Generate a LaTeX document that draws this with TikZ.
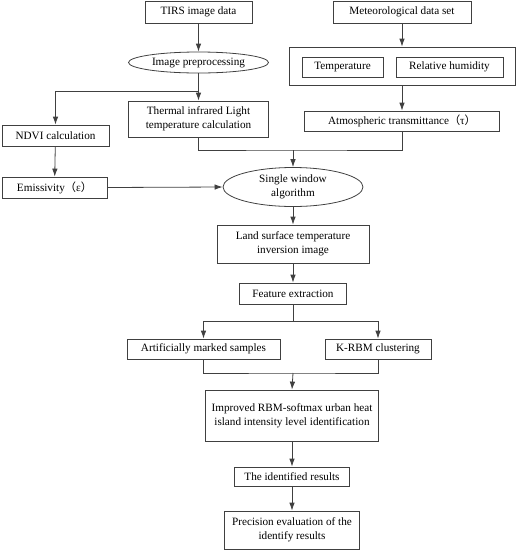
\documentclass[tikz,border=0pt]{standalone}
\usepackage{fontspec}
\setmainfont{Liberation Serif}
\newfontfamily\cjk{Noto Sans CJK SC}
\newcommand{\lpar}{{\cjk （}}
\newcommand{\rpar}{{\cjk ）}}
\usetikzlibrary{arrows.meta,shapes.geometric}
\begin{document}
\begin{tikzpicture}[x=1pt,y=-1pt,
  every node/.style={font=\fontsize{11.2}{14}\selectfont, text=black, inner sep=0pt, align=center},
  box/.style={draw=black!75, line width=0.8pt, rectangle},
  oval/.style={draw=black!75, line width=0.8pt, ellipse},
  ln/.style={draw=black!75, line width=0.8pt},
  arr/.style={ln, -{Latex[length=8pt,width=5.5pt]}}
]
\useasboundingbox (0,0) rectangle (517,550);
\node[box, minimum width=107pt, minimum height=22pt] (tirs) at (198.5,12) {TIRS image data};
\node[box, minimum width=138pt, minimum height=22pt] (met) at (402,12) {Meteorological data set};
\node[oval, minimum width=140pt, minimum height=21pt] (prep) at (198.5,62.5) {Image preprocessing};
\node[box, minimum width=226pt, minimum height=38pt] (outer) at (402,66) {};
\node[box, minimum width=81pt, minimum height=20pt] (temp) at (342.5,67) {Temperature};
\node[box, minimum width=107pt, minimum height=20pt] (hum) at (449.5,67) {Relative humidity};
\node[box, minimum width=195pt, minimum height=20pt] (atm) at (402,121) {Atmospheric transmittance\lpar τ\rpar};
\node[box, minimum width=140pt, minimum height=36pt] (therm) at (198.5,119) {Thermal infrared Light\\temperature calculation};
\node[box, minimum width=107pt, minimum height=21pt] (ndvi) at (55.5,135.5) {NDVI calculation};
\node[box, minimum width=105pt, minimum height=21pt] (emis) at (54.5,187.5) {Emissivity\lpar ε\rpar};
\node[oval, minimum width=140pt, minimum height=39pt] (single) at (293,187) {Single window\\algorithm};
\node[box, minimum width=152pt, minimum height=38pt] (lst) at (293,244) {Land surface temperature\\inversion image};
\node[box, minimum width=107pt, minimum height=21pt] (feat) at (293,293.5) {Feature extraction};
\node[box, minimum width=153pt, minimum height=20pt] (art) at (203.5,349) {Artificially marked samples};
\node[box, minimum width=106pt, minimum height=20pt] (krbm) at (378,349) {K-RBM clustering};
\node[box, minimum width=173pt, minimum height=51pt] (impr) at (292,415.5) {Improved RBM-softmax urban heat\\island intensity level identification};
\node[box, minimum width=115pt, minimum height=19pt] (ident) at (292,476.5) {The identified results};
\node[box, minimum width=135pt, minimum height=38pt] (prec) at (292,530) {Precision evaluation of the\\identify results};

\coordinate (br) at (198.5,91);
\coordinate (j) at (293,150);
\coordinate (s) at (293,321);
\coordinate (m) at (293,373);

\draw[arr] (tirs) -- (prep);
\draw[arr] (met) -- (outer);
\draw[arr] (outer) -- (atm);
\draw[arr] (prep) -- (therm);
\draw[arr] (br) -| (ndvi.north);
\draw[arr] (ndvi) -- (emis);
\draw[ln] (therm.south) |- (j) -| (atm.south);
\draw[arr] (j) -- (single.north);
\draw[arr] (emis.east) -- (single.west);
\draw[arr] (single) -- (lst);
\draw[arr] (lst) -- (feat);
\draw[ln] (feat.south) -- (s);
\draw[arr] (s) -| (art.north);
\draw[arr] (s) -| (krbm.north);
\draw[ln] (art.south) |- (m) -| (krbm.south);
\draw[arr] (m) -- (impr.north);
\draw[arr] (impr) -- (ident);
\draw[arr] (ident) -- (prec);
\end{tikzpicture}
\end{document}
